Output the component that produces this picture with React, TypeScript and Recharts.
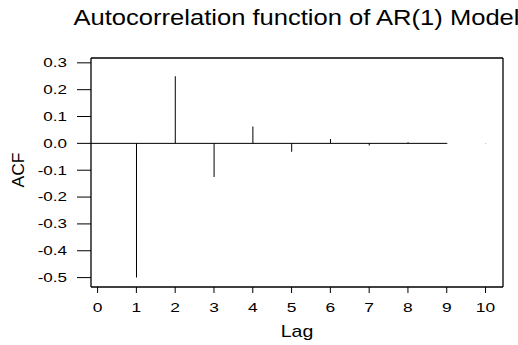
import { ComposedChart, Bar, XAxis, YAxis, ReferenceLine } from "recharts";

const LAGS = [1, 2, 3, 4, 5, 6, 7, 8, 9, 10];
const ACF_VALUES = [-0.5, 0.25, -0.125, 0.0625, -0.031, 0.016, -0.008, 0.004, -0.002, 0.001];
const X_TICKS = [0, 1, 2, 3, 4, 5, 6, 7, 8, 9, 10];
const Y_TICKS = [-0.5, -0.4, -0.3, -0.2, -0.1, 0.0, 0.1, 0.2, 0.3];
const X_DOMAIN: [number, number] = [-0.17, 10.45];
const Y_DOMAIN: [number, number] = [-0.535, 0.318];
const ZERO_LINE_END = 9;

const FONT = '"Liberation Sans", Arial, sans-serif';

const data = LAGS.map((lag, i) => ({ lag, acf: ACF_VALUES[i] }));

function YTick({ x, y, payload }: any) {
  return (
    <g transform={`translate(${x},${y}) scale(1.42,1)`}>
      <text textAnchor="end" dy="0.36em" fontSize={12} fontFamily={FONT} fill="#000">
        {Number(payload.value).toFixed(1)}
      </text>
    </g>
  );
}

function XTick({ x, y, payload }: any) {
  return (
    <g transform={`translate(${x},${y}) scale(1.45,1)`}>
      <text textAnchor="middle" dy="0.71em" fontSize={12} fontFamily={FONT} fill="#000">
        {payload.value}
      </text>
    </g>
  );
}

export default function App() {
  return (
    <div style={{ position: "absolute", left: 0, top: 0, width: 518, height: 345, background: "#fff", overflow: "hidden" }}>
      <ComposedChart width={518} height={345} data={data} margin={{ top: 58, right: 15, left: 0, bottom: 0 }}>
        <XAxis
          dataKey="lag"
          type="number"
          domain={X_DOMAIN}
          ticks={X_TICKS}
          interval={0}
          allowDataOverflow
          height={58}
          tickSize={6}
          tickMargin={10}
          stroke="#000"
          tickLine={{ stroke: "#000" }}
          axisLine={{ stroke: "#000", strokeWidth: 1.3 }}
          tick={<XTick />}
        />
        <YAxis
          type="number"
          domain={Y_DOMAIN}
          ticks={Y_TICKS}
          interval={0}
          allowDataOverflow
          width={91}
          tickSize={14}
          tickMargin={10}
          stroke="#000"
          tickLine={{ stroke: "#000" }}
          axisLine={{ stroke: "#000", strokeWidth: 1.3 }}
          tick={<YTick />}
        />
        <ReferenceLine y={Y_DOMAIN[1]} stroke="#000" strokeWidth={1.3} />
        <ReferenceLine x={X_DOMAIN[1]} stroke="#000" strokeWidth={1.3} />
        <ReferenceLine
          segment={[
            { x: X_DOMAIN[0], y: 0 },
            { x: ZERO_LINE_END, y: 0 },
          ]}
          stroke="#000"
          strokeWidth={1}
        />
        <Bar dataKey="acf" barSize={1} fill="#000" isAnimationActive={false} />
      </ComposedChart>
      <svg
        width={518}
        height={345}
        style={{ position: "absolute", left: 0, top: 0, pointerEvents: "none" }}
      >
        <text x={73.5} y={25} fontSize={22} fontFamily={FONT} fill="#000" textLength={446} lengthAdjust="spacingAndGlyphs">
          Autocorrelation function of AR(1) Model
        </text>
        <g transform="translate(297,336.5) scale(1.22,1)">
          <text textAnchor="middle" fontSize={16} fontFamily={FONT} fill="#000">
            Lag
          </text>
        </g>
        <g transform="translate(24,170) rotate(-90)">
          <text textAnchor="middle" fontSize={16} fontFamily={FONT} fill="#000" textLength={35} lengthAdjust="spacingAndGlyphs">
            ACF
          </text>
        </g>
      </svg>
    </div>
  );
}
